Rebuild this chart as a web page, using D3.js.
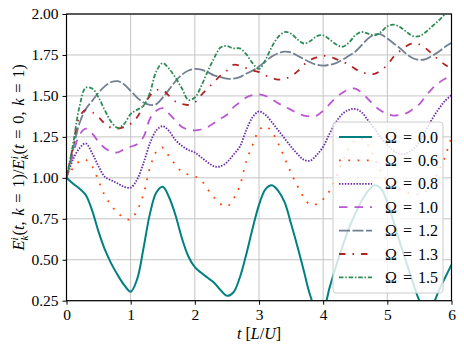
<!DOCTYPE html>
<html>
<head>
<meta charset="utf-8">
<script src="https://cdn.jsdelivr.net/npm/d3@7"></script>
<style>
  html, body { margin: 0; padding: 0; background: #fff; }
  svg { display: block; }
  svg text { font-family: "Liberation Serif", "DejaVu Serif", serif; fill: #000; }
</style>
</head>
<body>
<div id="chart"></div>
<script>
// time samples, t [L/U]
const times = [0.0, 0.1, 0.2, 0.3, 0.4, 0.5, 0.6, 0.7, 0.8, 0.9,
  1.0, 1.1, 1.2, 1.3, 1.4, 1.5, 1.6, 1.7, 1.8, 1.9,
  2.0, 2.1, 2.2, 2.3, 2.4, 2.5, 2.6, 2.7, 2.8, 2.9,
  3.0, 3.1, 3.2, 3.3, 3.4, 3.5, 3.6, 3.7, 3.8, 3.9,
  4.0, 4.1, 4.2, 4.3, 4.4, 4.5, 4.6, 4.7, 4.8, 4.9,
  5.0, 5.1, 5.2, 5.3, 5.4, 5.5, 5.6, 5.7, 5.8, 5.9, 6.0];

const omega00 = [1.0, 0.965, 0.935, 0.895, 0.80, 0.67, 0.56, 0.475, 0.405, 0.345,
  0.305, 0.38, 0.57, 0.78, 0.91, 0.945, 0.88, 0.77, 0.63, 0.52,
  0.455, 0.42, 0.39, 0.36, 0.315, 0.28, 0.30, 0.39, 0.53, 0.69,
  0.835, 0.93, 0.955, 0.92, 0.85, 0.72, 0.58, 0.43, 0.28, 0.19,
  0.20, 0.33, 0.46, 0.58, 0.69, 0.78, 0.86, 0.92, 0.955, 0.935,
  0.85, 0.73, 0.60, 0.48, 0.36, 0.25, 0.19, 0.22, 0.31, 0.39, 0.47];

const omega06 = [1.0, 1.06, 1.10, 1.11, 1.07, 0.98, 0.89, 0.83, 0.785, 0.755,
  0.745, 0.80, 0.90, 1.06, 1.16, 1.185, 1.13, 1.08, 1.035, 1.02,
  1.01, 0.985, 0.93, 0.88, 0.84, 0.825, 0.87, 0.95, 1.10, 1.20,
  1.29, 1.315, 1.28, 1.21, 1.12, 1.03, 0.95, 0.88, 0.835, 0.84,
  0.87, 0.92, 1.00, 1.10, 1.18, 1.23, 1.24, 1.20, 1.12, 1.04,
  0.98, 0.95, 0.93, 0.91, 0.90, 0.90, 0.92, 0.97, 1.04, 1.13, 1.25];

const omega08 = [1.0, 1.11, 1.18, 1.21, 1.15, 1.07, 1.005, 0.985, 0.965, 0.945,
  0.94, 0.99, 1.09, 1.21, 1.29, 1.315, 1.285, 1.23, 1.195, 1.17,
  1.155, 1.125, 1.095, 1.07, 1.07, 1.095, 1.14, 1.19, 1.29, 1.37,
  1.405, 1.385, 1.34, 1.29, 1.24, 1.19, 1.145, 1.11, 1.105, 1.14,
  1.19, 1.27, 1.34, 1.39, 1.415, 1.42, 1.40, 1.35, 1.30, 1.245,
  1.20, 1.165, 1.145, 1.15, 1.175, 1.22, 1.29, 1.36, 1.42, 1.47, 1.505];

const omega10 = [1.0, 1.14, 1.26, 1.30, 1.27, 1.22, 1.18, 1.16, 1.155, 1.175,
  1.19, 1.205, 1.25, 1.36, 1.41, 1.425, 1.39, 1.35, 1.31, 1.295,
  1.29, 1.295, 1.31, 1.335, 1.36, 1.385, 1.43, 1.46, 1.49, 1.505,
  1.51, 1.50, 1.48, 1.455, 1.435, 1.415, 1.395, 1.38, 1.375, 1.38,
  1.41, 1.45, 1.49, 1.52, 1.54, 1.545, 1.52, 1.48, 1.44, 1.41,
  1.39, 1.38, 1.385, 1.395, 1.42, 1.45, 1.50, 1.545, 1.58, 1.605, 1.62];

const omega12 = [1.0, 1.17, 1.33, 1.42, 1.47, 1.52, 1.56, 1.585, 1.59, 1.57,
  1.53, 1.49, 1.46, 1.445, 1.45, 1.49, 1.54, 1.59, 1.63, 1.655,
  1.665, 1.66, 1.645, 1.625, 1.615, 1.605, 1.605, 1.615, 1.635, 1.655,
  1.68, 1.71, 1.74, 1.76, 1.77, 1.765, 1.745, 1.725, 1.705, 1.69,
  1.685, 1.69, 1.70, 1.72, 1.745, 1.77, 1.81, 1.85, 1.875, 1.875,
  1.85, 1.82, 1.79, 1.755, 1.73, 1.72, 1.725, 1.745, 1.77, 1.80, 1.825];

const omega13 = [1.0, 1.19, 1.37, 1.415, 1.40, 1.37, 1.33, 1.305, 1.30, 1.31,
  1.33, 1.37, 1.44, 1.50, 1.535, 1.535, 1.50, 1.465, 1.45, 1.445,
  1.46, 1.505, 1.545, 1.585, 1.625, 1.655, 1.69, 1.685, 1.67, 1.655,
  1.645, 1.625, 1.61, 1.60, 1.605, 1.62, 1.65, 1.69, 1.72, 1.735,
  1.745, 1.74, 1.725, 1.71, 1.69, 1.665, 1.645, 1.635, 1.635, 1.655,
  1.69, 1.74, 1.775, 1.805, 1.82, 1.815, 1.79, 1.755, 1.72, 1.69, 1.665];

const omega15 = [1.0, 1.20, 1.43, 1.55, 1.545, 1.49, 1.41, 1.34, 1.305, 1.33,
  1.39, 1.415, 1.44, 1.52, 1.65, 1.70, 1.665, 1.61, 1.545, 1.475,
  1.49, 1.56, 1.65, 1.73, 1.795, 1.805, 1.79, 1.79, 1.755, 1.70,
  1.665, 1.72, 1.80, 1.86, 1.89, 1.88, 1.845, 1.82, 1.835, 1.865,
  1.87, 1.845, 1.815, 1.80, 1.825, 1.87, 1.89, 1.88, 1.87, 1.89,
  1.925, 1.935, 1.92, 1.89, 1.865, 1.865, 1.89, 1.925, 1.96, 2.00, 2.04];

const omegaLabels = ['0.0', '0.6', '0.8', '1.0', '1.2', '1.3', '1.5'];
const seriesValues = [omega00, omega06, omega08, omega10, omega12, omega13, omega15];

const xTicks = [0, 1, 2, 3, 4, 5, 6];
const yTicks = [0.25, 0.50, 0.75, 1.00, 1.25, 1.50, 1.75, 2.00];

// line styles per Ω, in legend order
const styles = [
  { color: '#008080', width: 2, dash: null },
  { color: '#ff4500', width: 1.8, dash: '1.8,7.5' },
  { color: '#6a2aa8', width: 1.8, dash: '1.5,1.4' },
  { color: '#ba55d3', width: 1.8, dash: '8.5,7' },
  { color: '#708090', width: 1.8, dash: '11,2.5' },
  { color: '#b22222', width: 1.8, dash: '6.5,7,1.5,7' },
  { color: '#2e8b57', width: 1.8, dash: '4.5,1.8,1.5,1.8' }
];

const W = 464, H = 352;
const margin = { top: 14, right: 12.5, bottom: 51.3, left: 66.5 };
const width = W - margin.left - margin.right;
const height = H - margin.top - margin.bottom;

const svg = d3.select('#chart').append('svg')
  .attr('width', W)
  .attr('height', H);

const g = svg.append('g')
  .attr('transform', `translate(${margin.left},${margin.top})`);

const x = d3.scaleLinear().domain([0, 6]).range([0, width]);
const y = d3.scaleLinear().domain([0.25, 2.0]).range([height, 0]);

// grid
g.append('g')
  .selectAll('line')
  .data(xTicks)
  .join('line')
  .attr('x1', d => x(d)).attr('x2', d => x(d))
  .attr('y1', 0).attr('y2', height)
  .attr('stroke', '#c4c4c4').attr('stroke-width', 1);

g.append('g')
  .selectAll('line')
  .data(yTicks)
  .join('line')
  .attr('x1', 0).attr('x2', width)
  .attr('y1', d => y(d)).attr('y2', d => y(d))
  .attr('stroke', '#c4c4c4').attr('stroke-width', 1);

svg.append('clipPath').attr('id', 'clip')
  .append('rect').attr('width', width).attr('height', height);

const line = d3.line()
  .x((d, i) => x(times[i]))
  .y(d => y(d))
  .curve(d3.curveCatmullRom.alpha(0.5));

const plot = g.append('g').attr('clip-path', 'url(#clip)');

seriesValues.forEach((vals, i) => {
  const s = styles[i];
  plot.append('path')
    .datum(vals)
    .attr('fill', 'none')
    .attr('stroke', s.color)
    .attr('stroke-width', s.width)
    .attr('stroke-dasharray', s.dash)
    .attr('stroke-linejoin', 'round')
    .attr('d', line);
});

// axes
const xAxis = g.append('g')
  .attr('transform', `translate(0,${height})`)
  .call(d3.axisBottom(x).tickValues(xTicks).tickFormat(d3.format('d')).tickSize(4).tickPadding(4));

const yAxis = g.append('g')
  .call(d3.axisLeft(y).tickValues(yTicks).tickFormat(d3.format('.2f')).tickSize(4).tickPadding(4));

[xAxis, yAxis].forEach(a => {
  a.attr('font-family', null).attr('font-size', null);
  a.select('.domain').remove();
  a.selectAll('.tick line').attr('stroke', '#000').attr('stroke-width', 1);
  a.selectAll('.tick text')
    .attr('fill', '#000')
    .attr('font-size', 15.5);
});

// frame
g.append('rect')
  .attr('width', width).attr('height', height)
  .attr('fill', 'none').attr('stroke', '#000').attr('stroke-width', 1.2);

// x label
svg.append('text')
  .attr('x', margin.left + width / 2)
  .attr('y', 339)
  .attr('text-anchor', 'middle')
  .attr('font-size', 16)
  .call(t => {
    t.append('tspan').attr('font-style', 'italic').text('t');
    t.append('tspan').text(' [');
    t.append('tspan').attr('font-style', 'italic').text('L');
    t.append('tspan').text('/');
    t.append('tspan').attr('font-style', 'italic').text('U');
    t.append('tspan').text(']');
  });

// y label
function energy(t) {
  t.append('tspan').attr('font-style', 'italic').text('E');
  t.append('tspan').attr('font-style', 'italic').attr('font-size', 11).attr('dy', -6).text('i');
  t.append('tspan').attr('font-style', 'italic').attr('font-size', 11).attr('dx', -3).attr('dy', 10).text('k');
  t.append('tspan').attr('dy', -4).text('(');
}

svg.append('text')
  .attr('transform', `translate(24,${margin.top + height / 2}) rotate(-90)`)
  .attr('text-anchor', 'middle')
  .attr('font-size', 16.5)
  .attr('word-spacing', 1.5)
  .call(t => {
    energy(t);
    t.append('tspan').attr('font-style', 'italic').text('t');
    t.append('tspan').text(', ');
    t.append('tspan').attr('font-style', 'italic').text('k');
    t.append('tspan').text(' = 1)/');
    energy(t);
    t.append('tspan').attr('font-style', 'italic').text('t');
    t.append('tspan').text(' = 0, ');
    t.append('tspan').attr('font-style', 'italic').text('k');
    t.append('tspan').text(' = 1)');
  });

// legend
const legend = svg.append('g').attr('transform', 'translate(333,122)');
legend.append('rect')
  .attr('width', 110).attr('height', 171)
  .attr('rx', 3)
  .attr('fill', '#fff').attr('fill-opacity', 0.8)
  .attr('stroke', '#cccccc').attr('stroke-width', 1);

omegaLabels.forEach((lab, i) => {
  const s = styles[i];
  const ly = 15 + i * 23.4;
  legend.append('line')
    .attr('x1', 6).attr('x2', 39)
    .attr('y1', ly).attr('y2', ly)
    .attr('stroke', s.color)
    .attr('stroke-width', s.width)
    .attr('stroke-dasharray', s.dash);
  legend.append('text')
    .attr('x', 52).attr('y', ly).attr('dy', '0.35em')
    .attr('font-size', 16)
    .attr('word-spacing', 2)
    .text(`Ω = ${lab}`);
});
</script>
</body>
</html>
